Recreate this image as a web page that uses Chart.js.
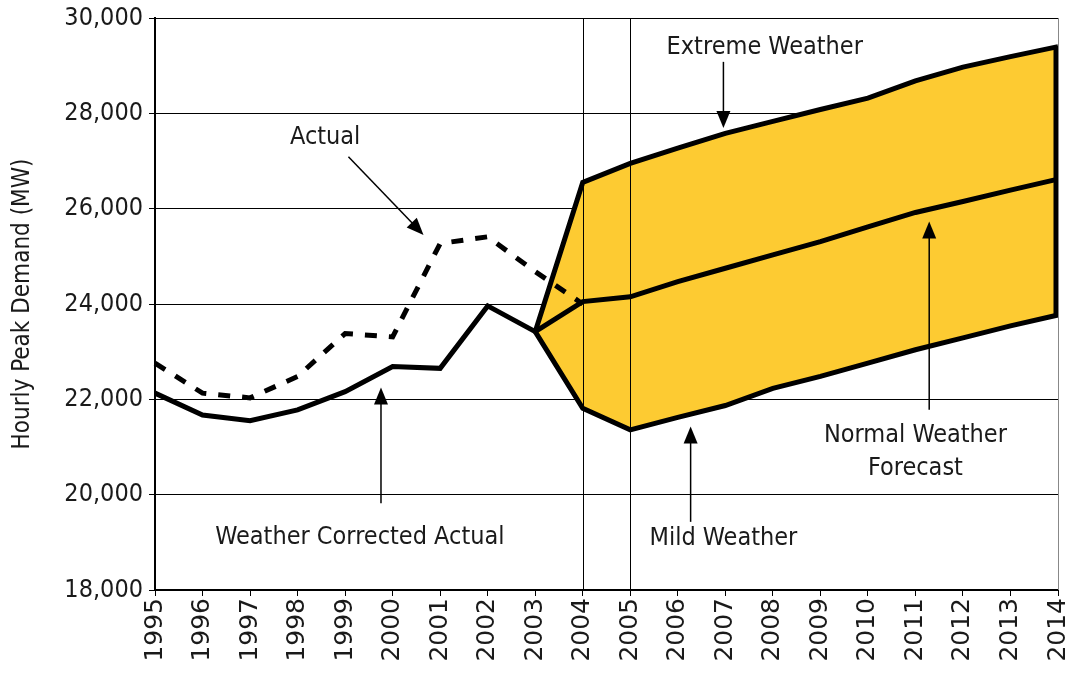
<!DOCTYPE html>
<html>
<head>
<meta charset="utf-8">
<title>Hourly Peak Demand</title>
<script src="https://cdn.jsdelivr.net/npm/chart.js@4/dist/chart.umd.min.js"></script>
<style>
    body { margin: 0; background: #fff; }
    #wrap { width: 1070px; height: 673px; }
</style>
</head>
<body>
<div id="wrap"><canvas id="demandChart" width="1070" height="673"></canvas></div>
<script>
// Years on the x axis
const years = ['1995', '1996', '1997', '1998', '1999', '2000', '2001', '2002', '2003', '2004',
               '2005', '2006', '2007', '2008', '2009', '2010', '2011', '2012', '2013', '2014'];

// Historical peaks (MW)
const actualPeak = [22760, 22130, 22030, 22480, 23380, 23310, 25270, 25410, 24680, 24000,
                    null, null, null, null, null, null, null, null, null, null];
const weatherCorrected = [22130, 21670, 21550, 21780, 22160, 22690, 22650, 23960, 23420, null,
                          null, null, null, null, null, null, null, null, null, null];

// Forecast band (MW), starting from the 2003 weather corrected value
const extremeWeather = [null, null, null, null, null, null, null, null, 23420, 26550,
                        26950, 27270, 27580, 27830, 28080, 28320, 28680, 28970, 29190, 29400];
const normalWeather = [null, null, null, null, null, null, null, null, 23420, 24050,
                       24150, 24470, 24750, 25030, 25310, 25620, 25920, 26150, 26390, 26620];
const mildWeather = [null, null, null, null, null, null, null, null, 23420, 21810,
                     21360, 21620, 21870, 22230, 22480, 22760, 23040, 23290, 23540, 23770];

// Y axis range
const yMin = 18000;
const yMax = 30000;
const yStep = 2000;

const FONT = "'DejaVu Sans Condensed', 'DejaVu Sans', sans-serif";
const FONT_WIDE = "'DejaVu Sans', sans-serif";
const TEXT = '#1a1a1a';
const BAND = '#fdcb32';

// Callout labels and arrows, in data units (x = category index)
const callouts = [
    { text: ['Actual'], x: 3.58, y: 27500, from: [4.07, 27090], to: [5.65, 25450] },
    { text: ['Weather Corrected Actual'], x: 4.31, y: 19110, from: [4.755, 19820], to: [4.755, 22250] },
    { text: ['Extreme Weather'], x: 12.83, y: 29390, from: [11.96, 29080], to: [11.96, 27690] },
    { text: ['Normal Weather', 'Forecast'], x: 16.0, y: 21250, from: [16.29, 21780], to: [16.29, 25730] },
    { text: ['Mild Weather'], x: 11.96, y: 19085, from: [11.27, 19430], to: [11.27, 21430] }
];

function drawArrow(ctx, x1, y1, x2, y2) {
    const ang = Math.atan2(y2 - y1, x2 - x1);
    const len = 17, half = 7;
    ctx.beginPath();
    ctx.moveTo(x1, y1);
    ctx.lineTo(x2 - Math.cos(ang) * len * 0.8, y2 - Math.sin(ang) * len * 0.8);
    ctx.stroke();
    ctx.beginPath();
    ctx.moveTo(x2, y2);
    ctx.lineTo(x2 - Math.cos(ang) * len - Math.sin(ang) * half, y2 - Math.sin(ang) * len + Math.cos(ang) * half);
    ctx.lineTo(x2 - Math.cos(ang) * len + Math.sin(ang) * half, y2 - Math.sin(ang) * len - Math.cos(ang) * half);
    ctx.closePath();
    ctx.fill();
}

const overlayPlugin = {
    id: 'overlay',
    // forecast divider lines sit on top of the band fill
    beforeDatasetsDraw(chart) {
        const { ctx, chartArea, scales } = chart;
        ctx.save();
        ctx.strokeStyle = '#000';
        ctx.lineWidth = 1;
        ['2004', '2005'].forEach(yr => {
            const x = Math.round(scales.x.getPixelForValue(years.indexOf(yr))) + 0.5;
            ctx.beginPath();
            ctx.moveTo(x, chartArea.top);
            ctx.lineTo(x, chartArea.bottom);
            ctx.stroke();
        });
        ctx.restore();
    },
    afterDatasetsDraw(chart) {
        const { ctx, chartArea, scales } = chart;
        const xs = scales.x, ys = scales.y;
        ctx.save();

        // closing edge of the band at the last year
        const last = years.length - 1;
        const xe = xs.getPixelForValue(last) - 2;
        ctx.strokeStyle = '#000';
        ctx.lineWidth = 5;
        ctx.beginPath();
        ctx.moveTo(xe, ys.getPixelForValue(extremeWeather[last]));
        ctx.lineTo(xe, ys.getPixelForValue(mildWeather[last]));
        ctx.stroke();

        // thin right border
        ctx.strokeStyle = '#888';
        ctx.lineWidth = 1;
        ctx.beginPath();
        ctx.moveTo(chartArea.right + 0.5, chartArea.top);
        ctx.lineTo(chartArea.right + 0.5, chartArea.bottom);
        ctx.stroke();

        // callouts
        ctx.strokeStyle = '#000';
        ctx.lineWidth = 1.5;
        callouts.forEach(c => {
            ctx.fillStyle = '#000';
            drawArrow(ctx,
                xs.getPixelForValue(c.from[0]), ys.getPixelForValue(c.from[1]),
                xs.getPixelForValue(c.to[0]), ys.getPixelForValue(c.to[1]));
            ctx.fillStyle = TEXT;
            ctx.font = '25px ' + FONT;
            ctx.textAlign = 'center';
            ctx.textBaseline = 'middle';
            const cx = xs.getPixelForValue(c.x);
            const cy = ys.getPixelForValue(c.y);
            c.text.forEach((line, i) => ctx.fillText(line, cx, cy + i * 33));
        });
        ctx.restore();
    }
};

const ctx = document.getElementById('demandChart').getContext('2d');
new Chart(ctx, {
    type: 'line',
    data: {
        labels: years,
        datasets: [
            {
                label: 'Actual',
                data: actualPeak,
                borderColor: '#000',
                borderWidth: 5,
                borderDash: [12, 12],
                borderCapStyle: 'butt',
                pointRadius: 0,
                fill: false
            },
            {
                label: 'Weather Corrected Actual',
                data: weatherCorrected,
                borderColor: '#000',
                borderWidth: 5,
                pointRadius: 0,
                fill: false
            },
            {
                label: 'Normal Weather Forecast',
                data: normalWeather,
                borderColor: '#000',
                borderWidth: 5,
                pointRadius: 0,
                fill: false
            },
            {
                label: 'Extreme Weather',
                data: extremeWeather,
                borderColor: '#000',
                borderWidth: 5,
                pointRadius: 0,
                backgroundColor: BAND,
                fill: '+1'
            },
            {
                label: 'Mild Weather',
                data: mildWeather,
                borderColor: '#000',
                borderWidth: 5,
                pointRadius: 0,
                fill: false
            }
        ]
    },
    options: {
        responsive: false,
        animation: false,
        layout: { padding: { top: 18, right: 12, left: 0, bottom: 0 } },
        elements: { line: { tension: 0 } },
        plugins: {
            legend: { display: false },
            tooltip: { enabled: false },
            filler: { drawTime: 'beforeDatasetsDraw' }
        },
        scales: {
            x: {
                offset: false,
                grid: {
                    color: 'rgba(0,0,0,0)',
                    tickColor: '#000',
                    tickLength: 6,
                    drawOnChartArea: false
                },
                border: { color: '#000', width: 2 },
                ticks: {
                    minRotation: 90,
                    maxRotation: 90,
                    autoSkip: false,
                    padding: 2,
                    color: TEXT,
                    font: { family: FONT_WIDE, size: 25 }
                },
                afterFit(scale) {
                    scale.height = 83;
                    scale.paddingLeft = 0;
                    scale.paddingRight = 0;
                }
            },
            y: {
                min: yMin,
                max: yMax,
                grid: {
                    color: '#000',
                    lineWidth: 1,
                    tickColor: '#000',
                    tickLength: 6
                },
                border: { color: '#000', width: 2 },
                ticks: {
                    stepSize: yStep,
                    padding: 6,
                    color: TEXT,
                    font: { family: FONT, size: 25 },
                    callback: v => v.toLocaleString('en-US')
                },
                title: {
                    display: true,
                    text: 'Hourly Peak Demand (MW)',
                    color: TEXT,
                    font: { family: FONT, size: 24 },
                    padding: { top: 8, bottom: 0 }
                },
                afterFit(scale) {
                    scale.width = 155;
                    scale.paddingTop = 0;
                    scale.paddingBottom = 0;
                }
            }
        }
    },
    plugins: [overlayPlugin]
});
</script>
</body>
</html>
